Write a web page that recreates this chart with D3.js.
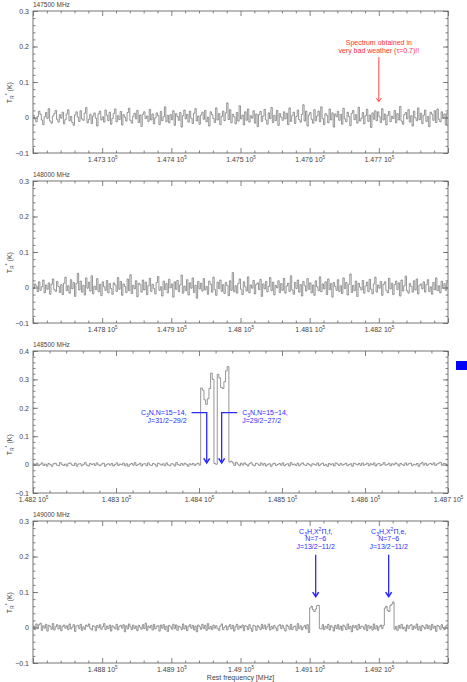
<!DOCTYPE html>
<html>
<head>
<meta charset="utf-8">
<script src="https://cdn.jsdelivr.net/npm/d3@7"></script>
<style>
body { margin: 0; background: #fff; }
text { font-family: "Liberation Sans", Arial, sans-serif; }
</style>
</head>
<body>
<script>
// Data (antenna temperature per channel, in mK)

// Panel 1: 147500 MHz setting, 2 MHz channels from 147200 MHz
var p1_title = "147500 MHz";
var p1_range = [147200, 147800];
var p1_yrange = [-0.1, 0.3];
var p1_chan = 2;
var p1_ticks = [147300, 147400, 147500, 147600, 147700];
var p1_mK = [
  6,-4,-12,3,18,9,-7,-20,2,14,-3,25,-10,-16,4,11,20,-5,-13,8,
  -2,15,-18,-6,10,22,-9,3,-14,-22,7,16,1,-11,19,-4,-8,12,28,-15,
  -5,9,-17,4,13,-2,-24,10,18,-7,2,-13,21,6,-9,15,-19,-3,11,24,
  -12,5,-6,17,-21,8,1,-10,14,26,-8,-16,3,12,-4,20,-14,7,-25,9,
  16,-3,4,-11,23,-7,10,-18,-1,13,5,-20,17,-9,2,30,-12,6,-15,8,
  -6,19,-22,11,3,-8,14,-27,5,21,-4,9,-13,18,-2,-17,12,25,-10,4,
  -19,7,15,-5,20,-12,1,-24,16,8,-3,-14,27,-7,11,-20,3,18,-9,13,
  41,-6,22,-15,9,2,-18,14,-10,33,-4,7,-21,16,-8,24,-13,5,-2,19,
  -16,10,-26,8,17,-11,4,23,-7,-19,13,-3,28,-14,6,-9,20,-22,11,1,
  -8,16,-4,12,-20,27,-11,5,15,-17,3,21,-6,-13,9,36,-10,18,-24,7,
  14,-5,-16,22,-9,4,18,-12,30,-3,-20,11,6,-15,24,-7,13,-27,10,2,
  17,-8,9,-19,26,-4,-12,15,3,-23,12,20,-6,8,-16,29,-10,-2,14,-18,
  5,23,-11,7,-28,13,-5,19,-9,16,2,-14,25,-7,10,-21,6,17,-12,4,
  -3,20,-15,11,-7,31,-10,-19,8,14,-4,22,-13,5,-24,18,-1,-9,27,-6,
  12,-17,6,21,-11,3,-26,15,9,-8,19,-14,24,-5,-12,16,-3,10,-20,13
];

// Panel 2: 148000 MHz setting
var p2_title = "148000 MHz";
var p2_range = [147700, 148300];
var p2_yrange = [-0.1, 0.3];
var p2_chan = 2;
var p2_ticks = [147800, 147900, 148000, 148100, 148200];
var p2_mK = [
  -3,10,4,-12,16,-8,2,21,-15,7,-5,13,-19,9,24,-6,-11,17,3,-14,
  8,-20,12,29,-9,5,-16,22,-4,14,-25,11,40,-7,18,-13,6,-21,27,-2,
  15,-10,33,-18,4,-6,25,-12,9,-23,16,2,-8,20,-15,11,-3,-19,13,7,
  -11,28,-5,17,-22,10,3,-14,24,-9,36,-17,6,-4,19,-26,12,8,-13,21,
  -7,15,-20,5,26,-11,9,-3,-18,14,31,-8,2,-24,18,-6,11,-15,23,-1,
  10,-27,16,-5,20,-12,7,35,-16,4,-9,22,-21,13,-2,27,-14,6,-30,17,
  -4,12,-10,25,-7,3,-19,18,9,-13,29,-6,-22,15,-3,21,-11,8,-17,14,
  6,-23,19,-8,42,-12,5,-16,11,24,-5,-20,16,2,-10,30,-15,7,-2,20,
  -18,9,13,-6,23,-25,10,-4,17,-12,3,28,-9,15,-21,6,-1,19,-14,11,
  -8,26,-16,4,12,-11,33,-7,-19,14,-3,21,-13,8,-24,17,5,-10,25,-5,
  13,-15,7,-22,19,2,-9,30,-12,10,-4,16,-20,24,-6,11,-27,14,3,-8,
  22,-11,5,-17,27,-3,14,-21,9,38,-14,6,-9,18,-25,12,1,-7,20,-16,
  4,15,-12,23,-5,-18,10,29,-13,7,-2,17,-22,9,16,-8,-15,26,-4,12,
  -20,8,18,-6,13,-24,21,-10,5,32,-9,-16,11,3,-13,19,-7,24,-18,6,
  10,-4,16,-13,8,22,-11,2,-19,14,-6,27,-9,5,-15,18,-3,11,-8,15
];

// Panel 3: 148500 MHz setting, C3N lines near 148.40-148.44 GHz
var p3_title = "148500 MHz";
var p3_range = [148200, 148700];
var p3_yrange = [-0.1, 0.4];
var p3_chan = 2;
var p3_ticks = [148200, 148300, 148400, 148500, 148600, 148700];
var p3_mK = [
  3,-2,5,-4,1,6,-3,2,-5,4,0,-6,3,5,-2,-4,7,1,-3,2,
  -5,4,6,-1,-3,5,-6,2,3,-4,1,7,-2,-5,4,0,3,-3,6,-1,
  -4,2,5,-6,1,3,-2,4,-5,0,6,-3,2,-1,5,-4,3,-6,1,4,
  -2,7,-3,0,5,-5,2,3,-4,6,-1,-3,4,1,-6,5,2,-2,3,-4,
  6,-1,-4,3,2,-5,7,0,-3,4,-2,5,1,-6,3,-1,4,-3,2,5,
  -2,
  270,262,228,212,232,268,322,300,4,1,318,305,272,268,292,330,345,9,
  12,6,-3,8,2,-4,5,-2,6,1,-5,3,7,-1,-4,5,2,-3,6,-2,
  4,-5,1,3,-6,2,5,-3,0,4,-2,6,-4,1,3,-5,7,-1,2,-3,
  5,-4,2,6,-1,-3,4,0,-5,3,1,-2,6,-4,2,5,-3,1,-6,4,
  -1,3,-5,6,2,-3,4,-2,1,5,-4,0,3,-6,5,2,-1,4,-3,6,
  -2,1,5,-4,3,-1,6,-5,2,4,-3,1,7,-2,0,5,-4,3,-1,6,
  2,-5,4,1,-3,6,-2,3,5,-4,1,-1,4,-6,3,7,-2,5,-3,2,
  4,-1,6,-3,2,5,8,-2,4,3,-4
];

// Panel 4: 149000 MHz setting, C3H lines near 149.11 and 149.21 GHz
var p4_title = "149000 MHz";
var p4_range = [148700, 149300];
var p4_yrange = [-0.1, 0.3];
var p4_chan = 2;
var p4_ticks = [148800, 148900, 149000, 149100, 149200];
var p4_mK = [
  4,-6,10,-3,8,12,-8,5,-2,9,-10,6,3,-5,11,-7,2,8,-4,6,
  -9,3,7,-2,5,-6,10,-4,1,8,-11,4,6,-3,9,-8,2,-5,7,3,
  10,-2,-7,5,3,-9,6,-1,8,-5,2,11,-6,4,-3,7,-10,5,1,-4,
  9,-7,3,6,-2,8,-12,5,-4,10,2,-6,7,-3,4,-9,6,1,-5,8,
  -3,12,-8,4,-1,6,-7,9,-4,3,5,-10,7,-2,8,-6,4,-11,6,2,
  -5,9,-3,7,-8,4,1,-6,10,-4,5,-9,3,8,-2,6,-7,4,-12,7,
  2,-5,9,-3,6,-8,11,-4,3,-6,7,-2,5,-3,-8,4,10,-6,1,5,
  -7,3,8,-4,6,-10,2,9,-5,4,-1,7,-9,5,3,-6,8,-2,-11,6,
  4,-8,5,1,-6,9,-3,7,-5,2,10,-7,3,-4,6,-1,-9,5,8,-3,
  6,-2,-10,7,3,-5,9,-6,2,4,-8,11,-3,5,-7,1,6,-4,8,-14,
  55,60,50,45,52,62,62,-3,
  -4,8,-6,3,-2,9,-7,5,1,-10,6,-3,8,-5,4,-8,7,2,-6,10,
  -4,3,-12,6,-1,5,-7,9,-3,4,2,-5,8,-9,6,-2,3,-7,10,-4,
  5,-8,2,7,-3,6,
  55,60,48,45,62,66,72,
  -5,3,-8,6,-2,9,-4,1,-10,7,-3,5,8,-6,4,-2,10,-7,3,-9,
  6,1,-4,8,-3,5,-7,9,-2,4,-11,6,3,-5,8,-1,-6,4,7
];

// Line identifications (frequency in MHz, heights in K)
var red_note = { f: 147700, top: 0.17, tip: 0.045, text: ["Spectrum obtained in", "very bad weather (\u03c4=0.7)!!"], ty: 0.205 };
var c3n_lines = [
  { f: 148409.3, lead: 148391, label: 148385, anchor: "end", text: ["C_3N,N=15\u221214,", "J=31/2\u221229/2"] },
  { f: 148427.3, lead: 148446, label: 148452, anchor: "start", text: ["C_3N,N=15\u221214,", "J=29/2\u221227/2"] }
];
var c3h_lines = [
  { f: 149108.7, text: ["C_3H,X^2\u03a0,f,", "N=7\u22126", "J=13/2\u221211/2"] },
  { f: 149214.2, text: ["C_3H,X^2\u03a0,e,", "N=7\u22126", "J=13/2\u221211/2"] }
];

var panels = [
  { title: p1_title, range: p1_range, yr: p1_yrange, dv: p1_chan, ticks: p1_ticks, mK: p1_mK },
  { title: p2_title, range: p2_range, yr: p2_yrange, dv: p2_chan, ticks: p2_ticks, mK: p2_mK },
  { title: p3_title, range: p3_range, yr: p3_yrange, dv: p3_chan, ticks: p3_ticks, mK: p3_mK },
  { title: p4_title, range: p4_range, yr: p4_yrange, dv: p4_chan, ticks: p4_ticks, mK: p4_mK }
];

// Layout
var width = 467, height = 682;
var left = 33, plotW = 415, plotH = 142;
var tops = [11, 181, 351, 521];
var axisColor = "#666", textColor = "#444";
var blue = "#2a2aff", red = "#ff3030";

var svg = d3.select("body").append("svg")
  .attr("width", width).attr("height", height);

// text with _x (subscript) and ^x (superscript) markers
function rich(t, s, small) {
  var cur = 0;
  s.split(/([_^].)/).forEach(function(p) {
    if (!p) return;
    var target = 0, txt = p;
    if (p[0] == "_") { target = 1.5; txt = p[1]; }
    else if (p[0] == "^") { target = -2.8; txt = p[1]; }
    var ts = t.append("tspan").attr("dy", target - cur).text(txt);
    if (target != 0) ts.attr("font-size", small || 5);
    cur = target;
  });
}

var fmtX = function(d) { return (+(d / 1e5).toFixed(4)).toString(); };
var fmtY = d3.format("~g");

panels.forEach(function(p, k) {
  var top = tops[k];
  var g = svg.append("g").attr("transform", "translate(" + left + "," + top + ")");
  var x = d3.scaleLinear().domain(p.range).range([0, plotW]);
  var y = d3.scaleLinear().domain(p.yr).range([plotH, 0]);
  p.x = x; p.y = y; p.g = g;

  var majorX = d3.range(p.range[0], p.range[1] + 1, 100);
  var minorX = d3.range(p.range[0], p.range[1] + 1, 20).filter(function(d) { return (d % 100) != 0; });
  var majorY = d3.range(p.yr[0], p.yr[1] + 1e-9, 0.1).map(function(d) { return +d.toFixed(2); });
  var minorY = d3.range(p.yr[0], p.yr[1] + 1e-9, 0.02).map(function(d) { return +d.toFixed(2); });

  // minor ticks
  g.append("g").attr("transform", "translate(0," + plotH + ")")
    .call(d3.axisBottom(x).tickValues(minorX).tickSize(-2.5).tickFormat(""));
  g.append("g").call(d3.axisTop(x).tickValues(minorX).tickSize(-2.5).tickFormat(""));
  g.append("g").call(d3.axisLeft(y).tickValues(minorY).tickSize(-2.5).tickFormat(""));
  g.append("g").attr("transform", "translate(" + plotW + ",0)")
    .call(d3.axisRight(y).tickValues(minorY).tickSize(-2.5).tickFormat(""));

  // major ticks
  var bx = g.append("g").attr("transform", "translate(0," + plotH + ")")
    .call(d3.axisBottom(x).tickValues(majorX).tickSize(-5).tickFormat(""));
  g.append("g").call(d3.axisTop(x).tickValues(majorX).tickSize(-5).tickFormat(""));
  g.append("g").call(d3.axisLeft(y).tickValues(majorY).tickSize(-5).tickPadding(4).tickFormat(fmtY));
  g.append("g").attr("transform", "translate(" + plotW + ",0)")
    .call(d3.axisRight(y).tickValues(majorY).tickSize(-5).tickFormat(""));

  // x tick labels like "1.473 10^5"
  bx.selectAll(".tick text").remove();
  bx.selectAll(".tick").filter(function(d) { return p.ticks.indexOf(d) >= 0; })
    .append("text")
    .attr("y", 8.5).attr("fill", textColor)
    .each(function(d) { rich(d3.select(this), fmtX(d) + "  10^5", 4.5); });

  g.selectAll(".domain").remove();
  g.selectAll(".tick line").attr("stroke", axisColor).attr("stroke-width", 0.8);
  g.selectAll(".tick text").attr("fill", textColor).attr("font-size", 7)
    .attr("font-family", "Liberation Sans, Arial, sans-serif");

  // frame
  g.append("rect").attr("width", plotW).attr("height", plotH)
    .attr("fill", "none").attr("stroke", axisColor).attr("stroke-width", 0.9);

  // spectrum as a histogram
  g.append("clipPath").attr("id", "clip" + k)
    .append("rect").attr("width", plotW).attr("height", plotH);
  var pts = p.mK.map(function(v, i) { return [p.range[0] + i * p.dv, v / 1000]; });
  pts.push([p.range[0] + p.mK.length * p.dv, p.mK[p.mK.length - 1] / 1000]);
  g.append("path")
    .datum(pts)
    .attr("clip-path", "url(#clip" + k + ")")
    .attr("fill", "none")
    .attr("stroke", "#6a6a6a")
    .attr("stroke-width", 0.7)
    .attr("d", d3.line()
      .x(function(d) { return x(d[0]); })
      .y(function(d) { return y(d[1]); })
      .curve(d3.curveStepAfter));

  // setting title
  svg.append("text").attr("x", left).attr("y", top - 4.5)
    .attr("font-size", 6.5).attr("fill", textColor).text(p.title);

  // y axis title
  var yl = svg.append("text")
    .attr("transform", "translate(12," + (top + y(0.07)) + ") rotate(-90)")
    .attr("text-anchor", "middle").attr("font-size", 7).attr("fill", textColor);
  rich(yl, "T_R^* (K)", 5);
});

// arrow head helper
function head(g, cx, cy, w, h, color, sw) {
  g.append("path")
    .attr("d", "M" + (cx - w) + "," + (cy - h) + "L" + cx + "," + cy + "L" + (cx + w) + "," + (cy - h))
    .attr("fill", "none").attr("stroke", color).attr("stroke-width", sw);
}

// Panel 1: red weather note
(function() {
  var p = panels[0], g = p.g, x = p.x, y = p.y;
  var t = g.append("text").attr("text-anchor", "middle").attr("font-size", 7).attr("fill", red);
  red_note.text.forEach(function(s, i) {
    t.append("tspan").attr("x", x(red_note.f)).attr("y", y(red_note.ty) + i * 8).text(s);
  });
  g.append("line").attr("x1", x(red_note.f)).attr("x2", x(red_note.f))
    .attr("y1", y(red_note.top)).attr("y2", y(red_note.tip))
    .attr("stroke", red).attr("stroke-width", 0.9);
  head(g, x(red_note.f), y(red_note.tip), 2.5, 3.5, red, 0.9);
})();

// Panel 3: C3N lines
(function() {
  var p = panels[2], g = p.g, x = p.x, y = p.y;
  c3n_lines.forEach(function(c) {
    g.append("path")
      .attr("d", "M" + x(c.lead) + "," + y(0.183) + "L" + x(c.f) + "," + y(0.183) + "L" + x(c.f) + "," + y(0.006))
      .attr("fill", "none").attr("stroke", blue).attr("stroke-width", 1.3);
    head(g, x(c.f), y(0.006), 3, 4.5, blue, 1.6);
    c.text.forEach(function(s, i) {
      var t = g.append("text").attr("x", x(c.label)).attr("y", y(0.173) + i * 7.3)
        .attr("text-anchor", c.anchor).attr("font-size", 7).attr("fill", blue);
      rich(t, s, 5);
    });
  });
  // blue marker square
  svg.append("rect").attr("x", left + plotW + 8).attr("y", tops[2] + 10)
    .attr("width", 11).attr("height", 9).attr("fill", "#0000ff");
})();

// Panel 4: C3H lines
(function() {
  var p = panels[3], g = p.g, x = p.x, y = p.y;
  c3h_lines.forEach(function(c) {
    g.append("line").attr("x1", x(c.f)).attr("x2", x(c.f))
      .attr("y1", y(0.205)).attr("y2", y(0.087))
      .attr("stroke", blue).attr("stroke-width", 1.3);
    head(g, x(c.f), y(0.087), 3, 4.5, blue, 1.6);
    c.text.forEach(function(s, i) {
      var t = g.append("text").attr("x", x(c.f)).attr("y", y(0.263) + i * 7.3)
        .attr("text-anchor", "middle").attr("font-size", 7).attr("fill", blue);
      rich(t, s, 5);
    });
  });
})();

// x axis title
svg.append("text").attr("x", left + plotW / 2).attr("y", tops[3] + plotH + 17)
  .attr("text-anchor", "middle").attr("font-size", 7).attr("fill", textColor)
  .text("Rest frequency [MHz]");
</script>
</body>
</html>
